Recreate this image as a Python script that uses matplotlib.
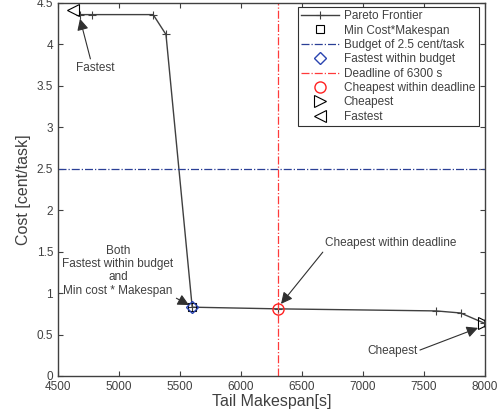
import matplotlib
matplotlib.use("Agg")
import matplotlib.pyplot as plt

plt.rcParams['font.family'] = ['Liberation Sans', 'DejaVu Sans']

# pareto frontier
pareto_x = [4680, 4780, 5280, 5385, 5600, 6300, 7600, 7800, 7990]
pareto_y = [4.36, 4.36, 4.36, 4.12, 0.83, 0.81, 0.785, 0.76, 0.64]

min_cm = (5600, 0.83)
fastest_budget = (5600, 0.83)
cheapest_deadline = (6300, 0.81)
cheapest = (7990, 0.64)
fastest = (4625, 4.41)

budget = 2.5
deadline = 6300

grey = '#404040'

fig = plt.figure(figsize=(5.01, 4.16), dpi=100)
ax = fig.add_axes([0.1158, 0.0962, 0.8522, 0.8966])

ax.plot(pareto_x, pareto_y, '-+', color=grey, lw=1, ms=6, mew=0.8, label='Pareto Frontier')
ax.plot(*min_cm, 's', mfc='none', mec='black', ms=6, mew=0.8, label='Min Cost*Makespan')
ax.axhline(budget, ls='-.', color='#2a3f96', lw=0.9, label='Budget of 2.5 cent/task')
ax.plot(*fastest_budget, 'D', mfc='none', mec='#2a44b0', ms=6, mew=1, label='Fastest within budget')
ax.axvline(deadline, ls='-.', color='#ff3a3a', lw=0.9, label='Deadline of 6300 s')
ax.plot(*cheapest_deadline, 'o', mfc='none', mec='#ff2020', ms=8, mew=1, label='Cheapest within deadline')
ax.plot(*cheapest, '>', mfc='none', mec='black', ms=8, mew=0.8, label='Cheapest')
ax.plot(*fastest, '<', mfc='none', mec='black', ms=8, mew=0.8, label='Fastest')

ax.set_xlim(4500, 8000)
ax.set_ylim(0, 4.5)
ax.set_xticks(range(4500, 8001, 500))
ax.set_yticks([0, 0.5, 1, 1.5, 2, 2.5, 3, 3.5, 4, 4.5])
ax.set_yticklabels(['0', '0.5', '1', '1.5', '2', '2.5', '3', '3.5', '4', '4.5'])
ax.tick_params(direction='in', top=True, right=True, length=3.5, width=0.8,
               labelsize=8.5, colors=grey, labelcolor=grey)
for s in ax.spines.values():
    s.set_color(grey)
    s.set_linewidth(1)

ax.set_xlabel('Tail Makespan[s]', fontsize=11.5, color=grey, labelpad=1)
ax.set_ylabel('Cost [cent/task]', fontsize=11.5, color=grey, labelpad=4)

arr = dict(arrowstyle='-|>', color='#303030', lw=0.8, mutation_scale=17, shrinkA=0, shrinkB=0)
ax.annotate('Fastest', xy=(4680, 4.31), xytext=(4803, 3.72), ha='center', va='center',
            fontsize=8.5, color=grey, arrowprops=dict(arr, relpos=(0.4, 1.0)))
ax.annotate('Both\nFastest within budget\nand\nMin cost * Makespan', xy=(5574, 0.856),
            xytext=(4992, 1.27), ha='center', va='center', fontsize=8.5, color=grey,
            linespacing=1.15, arrowprops=dict(arr, relpos=(1.0, 0.0)))
ax.annotate('Cheapest within deadline', xy=(6328, 0.87), xytext=(6689, 1.60),
            ha='left', va='center', fontsize=8.5, color=grey,
            arrowprops=dict(arr, relpos=(0.0, 0.0)))
ax.annotate('Cheapest', xy=(7943, 0.58), xytext=(7238, 0.30), ha='center', va='center',
            fontsize=8.5, color=grey, arrowprops=dict(arr, relpos=(1.0, 0.5)))

leg = ax.legend(loc='upper right', bbox_to_anchor=(0.985, 0.99), borderaxespad=0,
                fontsize=8.5, fancybox=False, edgecolor='#303030', framealpha=1,
                handlelength=3.2, handletextpad=0.4, labelspacing=0.2, borderpad=0.3)
leg.get_frame().set_linewidth(0.8)
for t in leg.get_texts():
    t.set_color(grey)

fig.savefig('out.png', dpi=100)
